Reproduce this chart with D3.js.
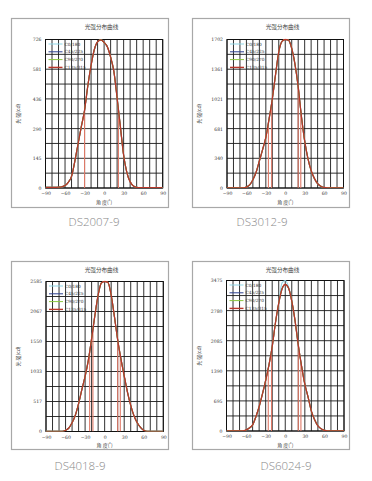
<!DOCTYPE html>
<html><head><meta charset="utf-8">
<script src="https://cdn.jsdelivr.net/npm/d3@7"></script>
<style>
html,body{margin:0;padding:0;background:#fff;}
svg{display:block;}
</style></head>
<body>
<svg id="c" width="372" height="481"></svg>
<script>
// ---- data ----
const angles = [-90,-85,-80,-75,-70,-65,-60,-55,-50,-45,-40,-35,-30,-25,-20,-15,-10,-5,0,5,10,15,20,25,30,35,40,45,50,55,60,65,70,75,80,85,90];
const seriesNames = ["C0/180","C45/225","C90/270","C135/315"];
const models = ["DS2007-9","DS3012-9","DS4018-9","DS6024-9"];
const yMax = [726,1702,2585,3475];
const yTickLabels = [
  [0,145,290,436,581,726],
  [0,340,681,1021,1361,1702],
  [0,517,1033,1550,2067,2585],
  [0,695,1390,2085,2780,3475]
];
const xTickLabels = [-90,-60,-30,0,30,60,90];
const ds2007 = [3,3,3,3,4,6,12,28,57,130,215,300,380,500,600,677,715,724,712,690,640,570,440,300,160,75,30,10,3,2,2,2,2,2,2,2,2];
const ds3012 = [2,2,2,2,2,2,10,35,95,180,310,440,580,790,1020,1300,1560,1680,1702,1695,1600,1420,1160,820,540,340,200,110,50,20,6,2,2,2,2,2,2];
const ds4018 = [3,3,3,3,3,3,20,60,150,280,480,720,950,1230,1600,2000,2350,2560,2585,2570,2350,1980,1580,1250,960,680,450,270,150,70,20,3,3,3,3,3,3];
const ds6024 = [3,3,3,3,3,3,25,70,140,330,560,850,1170,1520,1950,2500,2950,3280,3383,3300,3000,2550,1980,1500,1080,780,460,260,120,50,15,3,3,3,3,3,3];
const ds6024c0 = [3,3,3,3,3,3,25,70,140,330,560,850,1170,1520,1950,2500,2950,3420,3475,3330,3000,2550,1980,1500,1080,780,460,260,120,50,15,3,3,3,3,3,3];
const beamAngles = [[-30,22],[-26,-21,20,24],[-23,-18,20,24],[-26,-21,20,24]];

// series per panel: C0, C45, C90, C135
const panelSeries = [
  [ds2007, ds2007, ds2007, ds2007],
  [ds3012, ds3012, ds3012, ds3012],
  [ds4018, ds4018, ds4018, ds4018],
  [ds6024c0, ds6024, ds6024, ds6024]
];

// ---- layout ----
const panels = [
  {frame:[11,18,157,189], plot:[45.5,39.5,162.7,188], cap:[94,226]},
  {frame:[192,18,157,189], plot:[227,39.5,343.5,188], cap:[262,226]},
  {frame:[11,261,157,188], plot:[46,281.5,163.3,431.5], cap:[80,470]},
  {frame:[192,261,157,188], plot:[226.5,280.5,344,431], cap:[286,470]}
];
const colors = ["#8fd6e6","#2b3f8f","#8cc63f","#b8372a"];
const svg = d3.select("#c");
const small = "'DejaVu Serif', serif";
const cjk = "'Noto Sans CJK SC', sans-serif";

panels.forEach((p, i) => {
  const g = svg.append("g");
  const [fx,fy,fw,fh] = p.frame;
  g.append("rect").attr("x",fx+0.5).attr("y",fy+0.5).attr("width",fw).attr("height",fh)
    .attr("fill","#fff").attr("stroke","#a8a8a8").attr("stroke-width",1.2);
  const [l,t,r,b] = p.plot;
  const x = d3.scaleLinear().domain([-90,90]).range([l,r]);
  const y = d3.scaleLinear().domain([0,yMax[i]]).range([b,t]);

  // grid
  const grid = g.append("g").attr("stroke","#1a1a1a").attr("stroke-width",0.9);
  d3.range(-90,91,10).forEach(a=>{
    grid.append("line").attr("x1",x(a)).attr("x2",x(a)).attr("y1",t).attr("y2",b);
  });
  d3.range(0,11).forEach(k=>{
    const v = yMax[i]*k/10;
    grid.append("line").attr("x1",l).attr("x2",r).attr("y1",y(v)).attr("y2",y(v));
  });
  g.append("rect").attr("x",l).attr("y",t).attr("width",r-l).attr("height",b-t)
    .attr("fill","none").attr("stroke","#111").attr("stroke-width",1);

  // axes labels
  const yAxis = d3.axisLeft(y).tickValues(yTickLabels[i].map((v,k)=>yMax[i]*k/5))
    .tickFormat((d,k)=>yTickLabels[i][k]).tickSize(0).tickPadding(4);
  const ya = g.append("g").attr("transform",`translate(${l},0)`).call(yAxis);
  ya.select(".domain").remove();
  ya.selectAll("text").attr("font-family",small).attr("font-size",4.6).attr("fill","#333");
  const xAxis = d3.axisBottom(x).tickValues(xTickLabels).tickSize(0).tickPadding(4);
  const xa = g.append("g").attr("transform",`translate(0,${b})`).call(xAxis);
  xa.select(".domain").remove();
  xa.selectAll("text").attr("font-family",small).attr("font-size",4.6).attr("fill","#333");

  g.append("text").attr("x",(l+r)/2).attr("y",b+15.5).attr("text-anchor","middle")
    .attr("font-family",cjk).attr("font-size",5).attr("fill","#444").text("角 度(˚)");
  g.append("text").attr("transform",`translate(${fx+9},${(t+b)/2}) rotate(-90)`).attr("text-anchor","middle")
    .attr("font-family",cjk).attr("font-size",5).attr("fill","#444").text("光 强(cd)");
  g.append("text").attr("x",(fx+fw/2)+12).attr("y",fy+11).attr("text-anchor","middle")
    .attr("font-family",cjk).attr("font-size",5.6).attr("fill","#444").text("光强分布曲线");

  // clip
  const cid = "clip"+i;
  svg.append("clipPath").attr("id",cid).append("rect").attr("x",l).attr("y",t-1).attr("width",r-l).attr("height",b-t+1);
  const plotG = g.append("g").attr("clip-path",`url(#${cid})`);

  // beam angle markers
  const main = panelSeries[i][3];
  const interp = a => {
    const k = d3.bisectLeft(angles,a);
    const a0 = angles[k-1], a1 = angles[k];
    const f = (a-a0)/(a1-a0);
    return main[k-1]+(main[k]-main[k-1])*f;
  };
  beamAngles[i].forEach(a=>{
    plotG.append("line").attr("x1",x(a)).attr("x2",x(a)).attr("y1",y(0)).attr("y2",y(interp(a)))
      .attr("stroke","#e07a68").attr("stroke-width",1.1);
  });

  const line = d3.line().x((d,k)=>x(angles[k])).y(d=>y(d)).curve(d3.curveMonotoneX);
  panelSeries[i].forEach((s,si)=>{
    plotG.append("path").attr("d",line(s)).attr("fill","none")
      .attr("stroke",colors[si]).attr("stroke-width",si===3?1.3:1.1);
  });

  // legend
  const lg = g.append("g");
  seriesNames.forEach((n,si)=>{
    const ly = t+4.5+si*7.8;
    lg.append("line").attr("x1",l+3).attr("x2",l+17).attr("y1",ly).attr("y2",ly)
      .attr("stroke",colors[si]).attr("stroke-width",si===3?1.4:1);
    lg.append("text").attr("x",l+19).attr("y",ly+1.6).attr("font-family",small)
      .attr("font-size",4.3).attr("fill","#333").text(n);
  });

  // caption
  svg.append("text").attr("x",p.cap[0]).attr("y",p.cap[1]).attr("text-anchor","middle")
    .attr("font-family","'Open Sans', sans-serif").attr("font-weight",300).attr("font-size",11.5).attr("fill","#888")
    .text(models[i]);
});
</script>
</body></html>
